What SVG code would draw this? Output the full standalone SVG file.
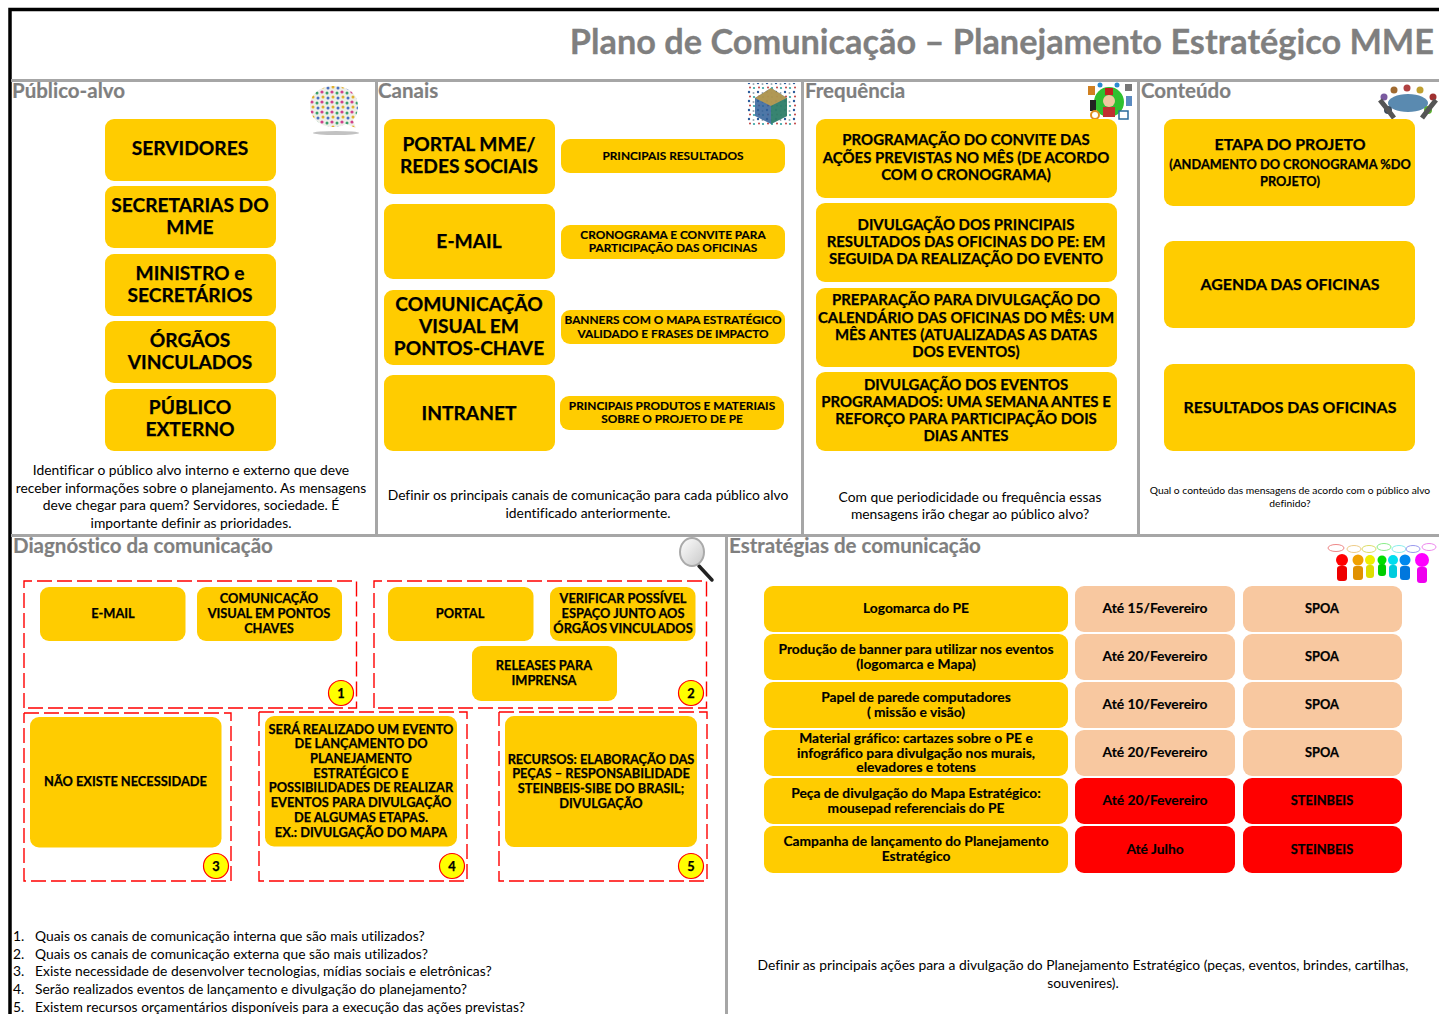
<svg xmlns="http://www.w3.org/2000/svg" width="1439" height="1014" viewBox="0 0 1439 1014">
<style>
text{font-family:"Lato","Carlito","Open Sans",sans-serif;text-anchor:middle;fill:#000;font-variant-ligatures:none}
.b{fill:#FFCC00}
.p{fill:#F8C8A0}
.r{fill:#FF0000}
.t{font-weight:700;stroke:#7f7f7f;stroke-width:.3}
.h{font-size:20.500px;font-weight:700;fill:#7f7f7f;text-anchor:start;stroke:#7f7f7f;stroke-width:.2}
.s22,.s16,.s15,.s14,.s12,.e{font-weight:700;stroke:#000;stroke-width:.25}
.s22{font-size:19.200px}
.s16{font-size:14.950px}
.s15{font-size:15.900px}
.s14{font-size:12.800px}
.s12{font-size:11.850px;stroke-width:.15}
.e{font-size:13.800px;stroke-width:.15}
.n{font-size:13.850px}
.l{font-size:13.850px;text-anchor:start}
.q{font-size:10.300px}
.g{stroke:#a6a6a6;stroke-width:3;fill:none}
.d{fill:none;stroke:#FF0000;stroke-width:1.4;stroke-dasharray:15 5}
.c{fill:#FFFF00;stroke:#FF0000;stroke-width:1.2}
</style>
<defs>
<pattern id="dots" width="10" height="10" patternUnits="userSpaceOnUse">
<rect width="10" height="10" fill="#eeeee8"/>
<circle cx="2" cy="2" r="1.600" fill="#d0408a"/><circle cx="7" cy="3" r="1.500" fill="#3aa06a"/><circle cx="3" cy="7" r="1.500" fill="#e0b030"/><circle cx="8" cy="8" r="1.500" fill="#4a70c0"/>
</pattern>
<pattern id="cube" width="9" height="9" patternUnits="userSpaceOnUse">
<rect width="9" height="9" fill="#fff"/>
<circle cx="2" cy="2" r="1.200" fill="#2a5a9a"/><circle cx="6.500" cy="3" r="1" fill="#9aa8b4"/><circle cx="3" cy="6.500" r="1" fill="#c04040"/><circle cx="7" cy="7" r="1.100" fill="#30a0a0"/>
</pattern>
<linearGradient id="lens" x1="0" y1="0" x2="1" y2="1"><stop offset="0" stop-color="#fff"/><stop offset="1" stop-color="#c8c8c8"/></linearGradient>
</defs>

<g id="frame">
<path d="M10 1014V9.500H1439" fill="none" stroke="#000" stroke-width="3.500"/>
<path class="g" d="M11 80.500H1439M376.500 80.500V535M802.500 80.500V535M1138.500 80.500V535M11 535.500H1439M726.500 535V1014"/>
<text x="1434" y="54" class="t" style="font-size:34.300px;fill:#7f7f7f;text-anchor:end">Plano de Comunicação – Planejamento Estratégico MME</text>
</g>

<g id="publico">
<text x="12" y="98" class="h">Público-alvo</text>
<g id="icon-bubble">
<ellipse cx="336" cy="133" rx="23" ry="2" fill="#999" opacity=".6"/>
<path d="M334 86c14 0 24 8 24 20 0 6-2 11-5 14l3 8-10-4c-4 2-8 3-12 3-14 0-24-9-24-21s10-20 24-20z" fill="url(#dots)"/>
</g>
<g id="n-servidores"><rect class="b" x="105" y="119" width="171" height="62" rx="9"/><text x="190" y="155" class="s22">SERVIDORES</text></g>
<g id="n-secretarias"><rect class="b" x="105" y="186" width="171" height="62" rx="9"/><text x="190" y="212" class="s22">SECRETARIAS DO</text><text x="190" y="234" class="s22">MME</text></g>
<g id="n-ministro"><rect class="b" x="105" y="254" width="171" height="62" rx="9"/><text x="190" y="280" class="s22">MINISTRO e</text><text x="190" y="302" class="s22">SECRETÁRIOS</text></g>
<g id="n-orgaos"><rect class="b" x="105" y="321" width="171" height="62" rx="9"/><text x="190" y="347" class="s22">ÓRGÃOS</text><text x="190" y="369" class="s22">VINCULADOS</text></g>
<g id="n-publico"><rect class="b" x="105" y="389" width="171" height="62" rx="9"/><text x="190" y="414" class="s22">PÚBLICO</text><text x="190" y="436" class="s22">EXTERNO</text></g>
<text x="191" y="475" class="n">Identificar o público alvo interno e externo que deve</text>
<text x="191" y="493" class="n">receber informações sobre o planejamento. As mensagens</text>
<text x="191" y="510" class="n">deve chegar para quem? Servidores, sociedade. É</text>
<text x="191" y="528" class="n">importante definir as prioridades.</text>
</g>

<g id="canais">
<text x="378" y="98" class="h">Canais</text>
<g id="icon-cube">
<rect x="747" y="83" width="50" height="43" fill="url(#cube)"/>
<path d="M771 88l16 10v18l-16 8-16-8V98z" fill="#2f5f98" opacity=".85"/>
<path d="M771 88l16 10-16 8-16-8z" fill="#c9a040" opacity=".8"/>
<path d="M771 106l16-8v18l-16 8z" fill="#2f8a5a" opacity=".7"/>
</g>
<g id="n-portal"><rect class="b" x="384" y="119" width="171" height="75" rx="9"/><text x="469" y="151" class="s22">PORTAL MME/</text><text x="469" y="173" class="s22">REDES SOCIAIS</text></g>
<g id="n-email"><rect class="b" x="384" y="204" width="171" height="75" rx="9"/><text x="469" y="248" class="s22">E-MAIL</text></g>
<g id="n-visual"><rect class="b" x="384" y="290" width="171" height="75" rx="9"/><text x="469" y="311" class="s22">COMUNICAÇÃO</text><text x="469" y="333" class="s22">VISUAL EM</text><text x="469" y="355" class="s22">PONTOS-CHAVE</text></g>
<g id="n-intranet"><rect class="b" x="384" y="375" width="171" height="76" rx="9"/><text x="469" y="420" class="s22">INTRANET</text></g>
<g id="n-resultados"><rect class="b" x="561" y="139" width="224" height="34" rx="9"/><text x="673" y="160" class="s12">PRINCIPAIS RESULTADOS</text></g>
<g id="n-crono"><rect class="b" x="561" y="225" width="224" height="34" rx="9"/><text x="673" y="239" class="s12">CRONOGRAMA E CONVITE PARA</text><text x="673" y="252" class="s12">PARTICIPAÇÃO DAS OFICINAS</text></g>
<g id="n-banners"><rect class="b" x="561" y="310" width="224" height="34" rx="9"/><text x="673" y="324" class="s12">BANNERS COM O MAPA ESTRATÉGICO</text><text x="673" y="338" class="s12">VALIDADO E FRASES DE IMPACTO</text></g>
<g id="n-produtos"><rect class="b" x="560" y="396" width="224" height="34" rx="9"/><text x="672" y="410" class="s12">PRINCIPAIS PRODUTOS E MATERIAIS</text><text x="672" y="423" class="s12">SOBRE O PROJETO DE PE</text></g>
<text x="588" y="500" class="n">Definir os principais canais de comunicação para cada público alvo</text>
<text x="588" y="518" class="n">identificado anteriormente.</text>
</g>

<g id="frequencia">
<text x="805" y="98" class="h">Frequência</text>
<g id="icon-freq">
<circle cx="1109" cy="102" r="15" fill="#2fc02f"/>
<rect x="1088" y="86" width="7" height="9" fill="#d08020"/>
<rect x="1125" y="84" width="7" height="7" fill="#777"/>
<rect x="1126" y="96" width="6" height="10" fill="#5a8ac0"/>
<rect x="1090" y="100" width="6" height="11" fill="#222"/>
<circle cx="1100" cy="85" r="2.500" fill="#2a8ad0"/><circle cx="1117" cy="85" r="2.500" fill="#2a8ad0"/>
<rect x="1105" y="88" width="8" height="7" fill="#c02020"/>
<circle cx="1109" cy="101" r="6" fill="#f0c8a0"/>
<rect x="1103" y="107" width="12" height="10" fill="#c03030"/>
<circle cx="1095" cy="115" r="4" fill="none" stroke="#e09020" stroke-width="2"/>
<rect x="1119" y="111" width="9" height="8" fill="#fff" stroke="#2a6a9a" stroke-width="1.500"/>
</g>
<g id="n-programacao"><rect class="b" x="816" y="119" width="301" height="79" rx="9"/><text x="966" y="145" class="s16">PROGRAMAÇÃO DO CONVITE DAS</text><text x="966" y="163" class="s16">AÇÕES PREVISTAS NO MÊS (DE ACORDO</text><text x="966" y="180" class="s16">COM O CRONOGRAMA)</text></g>
<g id="n-divulgacao"><rect class="b" x="816" y="203" width="301" height="79" rx="9"/><text x="966" y="230" class="s16">DIVULGAÇÃO DOS PRINCIPAIS</text><text x="966" y="247" class="s16">RESULTADOS DAS OFICINAS DO PE: EM</text><text x="966" y="264" class="s16">SEGUIDA DA REALIZAÇÃO DO EVENTO</text></g>
<g id="n-preparacao"><rect class="b" x="816" y="288" width="301" height="79" rx="9"/><text x="966" y="305" class="s16">PREPARAÇÃO PARA DIVULGAÇÃO DO</text><text x="966" y="323" class="s16">CALENDÁRIO DAS OFICINAS DO MÊS: UM</text><text x="966" y="340" class="s16">MÊS ANTES (ATUALIZADAS AS DATAS</text><text x="966" y="357" class="s16">DOS EVENTOS)</text></g>
<g id="n-eventos"><rect class="b" x="816" y="372" width="301" height="79" rx="9"/><text x="966" y="390" class="s16">DIVULGAÇÃO DOS EVENTOS</text><text x="966" y="407" class="s16">PROGRAMADOS: UMA SEMANA ANTES E</text><text x="966" y="424" class="s16">REFORÇO PARA PARTICIPAÇÃO DOIS</text><text x="966" y="441" class="s16">DIAS ANTES</text></g>
<text x="970" y="502" class="n">Com que periodicidade ou frequência essas</text>
<text x="970" y="519" class="n">mensagens irão chegar ao público alvo?</text>
</g>

<g id="conteudo">
<text x="1141" y="98" class="h">Conteúdo</text>
<g id="icon-table">
<ellipse cx="1408" cy="103" rx="20" ry="9" fill="#5a8ab0"/>
<circle cx="1384" cy="97" r="3.500" fill="#7a5aa0"/><circle cx="1394" cy="90" r="3.500" fill="#a06a30"/><circle cx="1407" cy="88" r="3.500" fill="#b04040"/><circle cx="1420" cy="90" r="3.500" fill="#c0a030"/><circle cx="1433" cy="97" r="3.500" fill="#a03030"/><circle cx="1388" cy="110" r="4" fill="#3a4a5a"/><circle cx="1428" cy="110" r="4" fill="#5ab030"/>
<path d="M1380 100l8 10 6 8M1436 100l-8 10-6 8" stroke="#555" stroke-width="5" fill="none"/>
</g>
<g id="n-etapa"><rect class="b" x="1164" y="119" width="251" height="87" rx="9"/><text x="1290" y="150" class="s15">ETAPA DO PROJETO</text><text x="1290" y="169" class="s14">(ANDAMENTO DO CRONOGRAMA %DO</text><text x="1290" y="186" class="s14">PROJETO)</text></g>
<g id="n-agenda"><rect class="b" x="1164" y="241" width="251" height="87" rx="9"/><text x="1290" y="290" class="s15">AGENDA DAS OFICINAS</text></g>
<g id="n-oficinas"><rect class="b" x="1164" y="364" width="251" height="87" rx="9"/><text x="1290" y="413" class="s15">RESULTADOS DAS OFICINAS</text></g>
<text x="1290" y="493.500" class="q">Qual o conteúdo das mensagens de acordo com o público alvo</text>
<text x="1290" y="506.500" class="q">definido?</text>
</g>

<g id="diagnostico">
<text x="13" y="553" class="h">Diagnóstico da comunicação</text>
<g id="icon-lens">
<path d="M699 566l13 14" stroke="#222" stroke-width="3.500" stroke-linecap="round"/>
<ellipse cx="692" cy="552" rx="12" ry="14" fill="url(#lens)" stroke="#aaa" stroke-width="2"/>
</g>
<g id="connectors">
<path class="d" d="M24 708V581H356.500V708H24"/>
<path class="d" d="M374 708V581H706.500V708H374"/>
<path class="d" d="M24 713H231V881H24V713"/>
<path class="d" d="M259 712H467V881H259V712"/>
<path class="d" d="M499 712H707V881H499V712"/>
</g>
<g id="n-d-email"><rect class="b" x="40" y="587" width="145.500" height="54" rx="9"/><text x="113" y="618" class="s14">E-MAIL</text></g>
<g id="n-d-visual"><rect class="b" x="197" y="587" width="145" height="54" rx="9"/><text x="269" y="603" class="s14">COMUNICAÇÃO</text><text x="269" y="618" class="s14">VISUAL EM PONTOS</text><text x="269" y="633" class="s14">CHAVES</text></g>
<g id="n-d-portal"><rect class="b" x="388" y="587" width="145.500" height="54" rx="9"/><text x="460" y="618" class="s14">PORTAL</text></g>
<g id="n-d-espaco"><rect class="b" x="550" y="587" width="145.500" height="54" rx="9"/><text x="623" y="603" class="s14">VERIFICAR POSSÍVEL</text><text x="623" y="618" class="s14">ESPAÇO JUNTO AOS</text><text x="623" y="633" class="s14">ÓRGÃOS VINCULADOS</text></g>
<g id="n-d-releases"><rect class="b" x="472" y="646" width="145" height="55" rx="9"/><text x="544" y="670" class="s14">RELEASES PARA</text><text x="544" y="685" class="s14">IMPRENSA</text></g>
<g id="n-d-nao"><rect class="b" x="30" y="717" width="191.500" height="130.500" rx="9"/><text x="125.500" y="786" class="s14">NÃO EXISTE NECESSIDADE</text></g>
<g id="n-d-evento"><rect class="b" x="265" y="716" width="192" height="130.500" rx="9"/>
<text x="361" y="734" class="s14">SERÁ REALIZADO UM EVENTO</text><text x="361" y="748" class="s14">DE LANÇAMENTO DO</text><text x="361" y="763" class="s14">PLANEJAMENTO</text><text x="361" y="778" class="s14">ESTRATÉGICO E</text><text x="361" y="792" class="s14">POSSIBILIDADES DE REALIZAR</text><text x="361" y="807" class="s14">EVENTOS PARA DIVULGAÇÃO</text><text x="361" y="822" class="s14">DE ALGUMAS ETAPAS.</text><text x="361" y="837" class="s14">EX.: DIVULGAÇÃO DO MAPA</text></g>
<g id="n-d-recursos"><rect class="b" x="505" y="716" width="192" height="131" rx="9"/><text x="601" y="764" class="s14">RECURSOS: ELABORAÇÃO DAS</text><text x="601" y="778" class="s14">PEÇAS – RESPONSABILIDADE</text><text x="601" y="793" class="s14">STEINBEIS-SIBE DO BRASIL;</text><text x="601" y="808" class="s14">DIVULGAÇÃO</text></g>
<g id="m1"><circle class="c" cx="341" cy="693" r="12.500"/><text x="341" y="698" class="s14">1</text></g>
<g id="m2"><circle class="c" cx="691" cy="693" r="12.500"/><text x="691" y="698" class="s14">2</text></g>
<g id="m3"><circle class="c" cx="216" cy="866" r="12.500"/><text x="216" y="871" class="s14">3</text></g>
<g id="m4"><circle class="c" cx="452" cy="866" r="12.500"/><text x="452" y="871" class="s14">4</text></g>
<g id="m5"><circle class="c" cx="691" cy="866" r="12.500"/><text x="691" y="871" class="s14">5</text></g>
<text x="13" y="941" class="l">1.</text><text x="35" y="941" class="l">Quais os canais de comunicação interna que são mais utilizados?</text>
<text x="13" y="959" class="l">2.</text><text x="35" y="959" class="l">Quais os canais de comunicação externa que são mais utilizados?</text>
<text x="13" y="976" class="l">3.</text><text x="35" y="976" class="l">Existe necessidade de desenvolver tecnologias, mídias sociais e eletrônicas?</text>
<text x="13" y="994" class="l">4.</text><text x="35" y="994" class="l">Serão realizados eventos de lançamento e divulgação do planejamento?</text>
<text x="13" y="1012" class="l">5.</text><text x="35" y="1012" class="l">Existem recursos orçamentários disponíveis para a execução das ações previstas?</text>
</g>

<g id="estrategias">
<text x="729" y="553" class="h">Estratégias de comunicação</text>
<g id="icon-people" fill="none" stroke-width="1">
<ellipse cx="1336" cy="548" rx="8" ry="3.500" stroke="#e88"/><ellipse cx="1354" cy="549" rx="7" ry="3.500" stroke="#ec8"/><ellipse cx="1369" cy="549" rx="7" ry="3.500" stroke="#dd6"/><ellipse cx="1384" cy="547" rx="7" ry="3.500" stroke="#8e8"/><ellipse cx="1399" cy="549" rx="7" ry="3.500" stroke="#8ee"/><ellipse cx="1413" cy="549" rx="7" ry="3.500" stroke="#99e"/><ellipse cx="1429" cy="547" rx="7" ry="3.500" stroke="#e8e"/>
<g stroke="none">
<circle cx="1342" cy="560" r="6" fill="#f00"/><rect x="1337" y="566" width="10" height="15" rx="3" fill="#e00"/>
<circle cx="1358" cy="560" r="5.500" fill="#f0a000"/><rect x="1353" y="566" width="10" height="14" rx="3" fill="#e09000"/>
<circle cx="1370" cy="560" r="5" fill="#ee0"/><rect x="1366" y="565" width="8" height="13" rx="3" fill="#dd0"/>
<circle cx="1382" cy="560" r="4.500" fill="#0d0"/><rect x="1378" y="564" width="8" height="12" rx="3" fill="#0c0"/>
<circle cx="1393" cy="560" r="5" fill="#0de"/><rect x="1389" y="565" width="8" height="13" rx="3" fill="#0cd"/>
<circle cx="1405" cy="560" r="5.500" fill="#08e"/><rect x="1400" y="566" width="10" height="14" rx="3" fill="#07d"/>
<circle cx="1422" cy="560" r="7" fill="#f0f"/><rect x="1417" y="567" width="10" height="16" rx="3" fill="#e0e"/>
</g>
</g>
<g id="row1"><rect class="b" x="764" y="586" width="304" height="46" rx="9"/><text x="916" y="613" class="e">Logomarca do PE</text><rect class="p" x="1075" y="586" width="160" height="46" rx="9"/><text x="1155" y="613" class="e">Até 15/Fevereiro</text><rect class="p" x="1243" y="586" width="159" height="46" rx="9"/><text x="1322" y="613" class="s14">SPOA</text></g>
<g id="row2"><rect class="b" x="764" y="634" width="304" height="46" rx="9"/><text x="916" y="654" class="e">Produção de banner para utilizar nos eventos</text><text x="916" y="669" class="e">(logomarca e Mapa)</text><rect class="p" x="1075" y="634" width="160" height="46" rx="9"/><text x="1155" y="661" class="e">Até 20/Fevereiro</text><rect class="p" x="1243" y="634" width="159" height="46" rx="9"/><text x="1322" y="661" class="s14">SPOA</text></g>
<g id="row3"><rect class="b" x="764" y="682" width="304" height="46" rx="9"/><text x="916" y="702" class="e">Papel de parede computadores</text><text x="916" y="717" class="e">( missão e visão)</text><rect class="p" x="1075" y="682" width="160" height="46" rx="9"/><text x="1155" y="709" class="e">Até 10/Fevereiro</text><rect class="p" x="1243" y="682" width="159" height="46" rx="9"/><text x="1322" y="709" class="s14">SPOA</text></g>
<g id="row4"><rect class="b" x="764" y="730" width="304" height="46" rx="9"/><text x="916" y="743" class="e">Material gráfico: cartazes sobre o PE e</text><text x="916" y="758" class="e">infográfico para divulgação nos murais,</text><text x="916" y="772" class="e">elevadores e totens</text><rect class="p" x="1075" y="730" width="160" height="46" rx="9"/><text x="1155" y="757" class="e">Até 20/Fevereiro</text><rect class="p" x="1243" y="730" width="159" height="46" rx="9"/><text x="1322" y="757" class="s14">SPOA</text></g>
<g id="row5"><rect class="b" x="764" y="778" width="304" height="46" rx="9"/><text x="916" y="798" class="e">Peça de divulgação do Mapa Estratégico:</text><text x="916" y="813" class="e">mousepad referenciais do PE</text><rect class="r" x="1075" y="778" width="160" height="46" rx="9"/><text x="1155" y="805" class="e">Até 20/Fevereiro</text><rect class="r" x="1243" y="778" width="159" height="46" rx="9"/><text x="1322" y="805" class="s14">STEINBEIS</text></g>
<g id="row6"><rect class="b" x="764" y="826" width="304" height="47" rx="9"/><text x="916" y="846" class="e">Campanha de lançamento do Planejamento</text><text x="916" y="861" class="e">Estratégico</text><rect class="r" x="1075" y="826" width="160" height="47" rx="9"/><text x="1155" y="854" class="e">Até Julho</text><rect class="r" x="1243" y="826" width="159" height="47" rx="9"/><text x="1322" y="854" class="s14">STEINBEIS</text></g>
<text x="1083" y="970" class="n">Definir as principais ações para a divulgação do Planejamento Estratégico (peças, eventos, brindes, cartilhas,</text>
<text x="1083" y="988" class="n">souvenires).</text>
</g>
</svg>
